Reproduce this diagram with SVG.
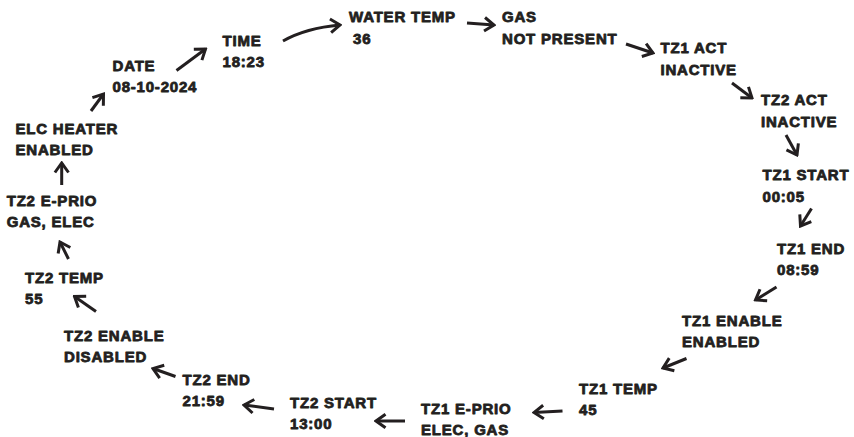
<svg xmlns="http://www.w3.org/2000/svg" width="854" height="437" viewBox="0 0 854 437">
<style>
text{font-family:"Liberation Sans",Arial,sans-serif;font-weight:bold;font-size:15px;letter-spacing:0.8px;fill:#231f20;stroke:#231f20;stroke-width:0.8px;stroke-linejoin:round}
.c{fill:none;stroke:#231f20;stroke-width:3;marker-end:url(#ah)}
</style>
<defs>
<marker id="ah" viewBox="-13 -9 15 18" refX="0" refY="0" markerUnits="userSpaceOnUse" markerWidth="15" markerHeight="18" orient="auto">
<path d="M-9.5,-6.8 L0,0 L-9.5,6.8" fill="none" stroke="#231f20" stroke-width="3"/>
</marker>
</defs>
<rect width="854" height="437" fill="#fff"/>
<g id="connectors">
<path class="c" d="M283,41 Q306,28 340,25"/>
<path class="c" d="M467,23 L494,25"/>
<path class="c" d="M626,44 L653,53"/>
<path class="c" d="M732,83 L752,98"/>
<path class="c" d="M786,135 L797,155"/>
<path class="c" d="M811.5,208.5 L800.5,226"/>
<path class="c" d="M776.5,287 L755.5,300"/>
<path class="c" d="M686.5,358.5 L663,368"/>
<path class="c" d="M562.5,411 L534,412.5"/>
<path class="c" d="M405,421 L376,421"/>
<path class="c" d="M274,409 L244,405"/>
<path class="c" d="M175.5,376.5 L153,368.5"/>
<path class="c" d="M96,311.5 L74.5,296.5"/>
<path class="c" d="M68.5,259 L60,242"/>
<path class="c" d="M61.7,185 L61.7,163"/>
<path class="c" d="M91,111 L103.5,94"/>
<path class="c" d="M176.5,70.5 L205.5,49"/>
</g>
<g id="water"><text x="349" y="22">WATER TEMP</text><text x="353" y="43.5">36</text></g>
<g id="gas"><text x="502" y="22">GAS</text><text x="502" y="43.5">NOT PRESENT</text></g>
<g id="tz1act"><text x="660.5" y="53">TZ1 ACT</text><text x="660.5" y="74.5">INACTIVE</text></g>
<g id="tz2act"><text x="761" y="105">TZ2 ACT</text><text x="761" y="126.5">INACTIVE</text></g>
<g id="tz1start"><text x="762.5" y="180">TZ1 START</text><text x="762.5" y="201.5">00:05</text></g>
<g id="tz1end"><text x="777" y="254">TZ1 END</text><text x="777" y="275">08:59</text></g>
<g id="tz1enable"><text x="682" y="326">TZ1 ENABLE</text><text x="682" y="347">ENABLED</text></g>
<g id="tz1temp"><text x="579" y="394">TZ1 TEMP</text><text x="579" y="415">45</text></g>
<g id="tz1eprio"><text x="421" y="413.5">TZ1 E-PRIO</text><text x="421" y="434.5">ELEC, GAS</text></g>
<g id="tz2start"><text x="290" y="407.5">TZ2 START</text><text x="290" y="429">13:00</text></g>
<g id="tz2end"><text x="182.5" y="385">TZ2 END</text><text x="182.5" y="405.5">21:59</text></g>
<g id="tz2enable"><text x="64" y="340.5">TZ2 ENABLE</text><text x="64" y="361.5">DISABLED</text></g>
<g id="tz2temp"><text x="25" y="282.5">TZ2 TEMP</text><text x="25" y="303.5">55</text></g>
<g id="tz2eprio"><text x="6.7" y="205.7">TZ2 E-PRIO</text><text x="6.7" y="227">GAS, ELEC</text></g>
<g id="elcheater"><text x="15.5" y="134">ELC HEATER</text><text x="15.5" y="155.3">ENABLED</text></g>
<g id="date"><text x="112.5" y="70.5">DATE</text><text x="112.5" y="91.5">08-10-2024</text></g>
<g id="time"><text x="222.5" y="46">TIME</text><text x="222.5" y="67">18:23</text></g>
</svg>
